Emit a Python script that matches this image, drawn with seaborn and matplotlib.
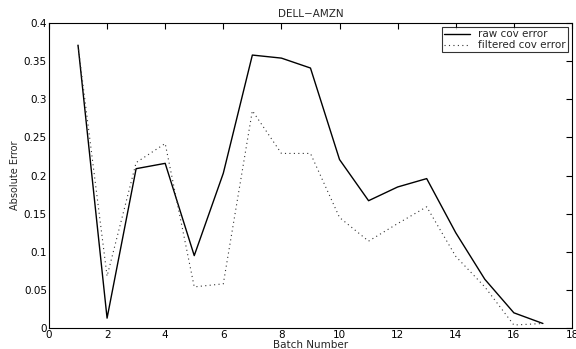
import matplotlib
matplotlib.use('Agg')
import matplotlib.pyplot as plt
import seaborn as sns
import pandas as pd

# 数据
batch = list(range(1, 18))
raw_err = [0.371, 0.013, 0.209, 0.216, 0.095, 0.203, 0.358, 0.354, 0.341,
           0.221, 0.167, 0.185, 0.196, 0.125, 0.064, 0.020, 0.006]
filt_err = [0.371, 0.068, 0.217, 0.242, 0.054, 0.058, 0.285, 0.229, 0.229,
            0.145, 0.114, 0.137, 0.159, 0.094, 0.054, 0.004, 0.006]

sns.set_style('white')
plt.rcParams['font.family'] = ['DejaVu Sans']

fig = plt.figure(figsize=(5.76, 3.49), dpi=100)
ax = fig.add_axes([0.085, 0.06, 0.908, 0.874])

df = pd.DataFrame({'batch': batch, 'raw': raw_err, 'filt': filt_err})
sns.lineplot(data=df, x='batch', y='raw', ax=ax, color='black', linewidth=1.0,
             label='raw cov error')
sns.lineplot(data=df, x='batch', y='filt', ax=ax, color='#333333', linewidth=0.8,
             linestyle=(0, (1, 3)), label='filtered cov error')

ax.set_xlim(0, 18)
ax.set_ylim(0, 0.4)
ax.set_xticks(range(0, 19, 2))
ax.set_yticks([0, 0.05, 0.1, 0.15, 0.2, 0.25, 0.3, 0.35, 0.4])
ax.set_yticklabels(['0', '0.05', '0.1', '0.15', '0.2', '0.25', '0.3', '0.35', '0.4'])
ax.tick_params(direction='in', top=True, right=True, length=4, width=0.8,
               labelsize=7.5, pad=1.5, colors='black')
for s in ax.spines.values():
    s.set_color('black')
    s.set_linewidth(0.8)

ax.set_title('DELL\u2212AMZN', fontsize=7.5, pad=4)
ax.set_xlabel('Batch Number', fontsize=7.5, labelpad=0)
ax.set_ylabel('Absolute Error', fontsize=7, labelpad=3)

leg = ax.legend(loc='upper right', fontsize=7.5, frameon=True, fancybox=False,
                edgecolor='black', borderaxespad=0.4, handlelength=2.5,
                borderpad=0.2, labelspacing=0.1)
leg.get_frame().set_linewidth(0.8)

fig.savefig('out.png', dpi=100)
